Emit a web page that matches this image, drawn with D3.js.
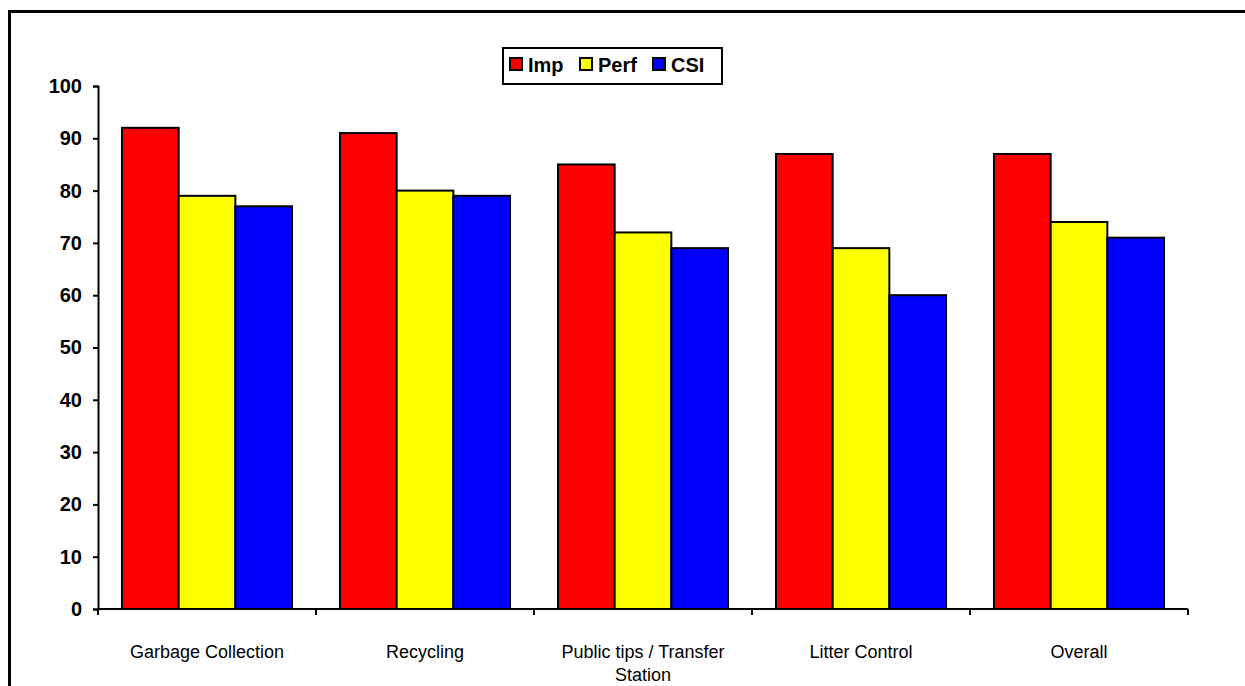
<!DOCTYPE html>
<html>
<head>
<meta charset="utf-8">
<script src="https://cdn.jsdelivr.net/npm/d3@7"></script>
<style>
  html, body { margin: 0; padding: 0; background: #fff; }
  svg { display: block; }
  text { font-family: "Liberation Sans", Arial, sans-serif; }
</style>
</head>
<body>
<svg id="chart" width="1245" height="686"></svg>
<script>
// Satisfaction scores by waste service
const categories = ["Garbage Collection", "Recycling", "Public tips / Transfer Station", "Litter Control", "Overall"];
const seriesNames = ["Imp", "Perf", "CSI"];
const seriesColors = ["#ff0000", "#ffff00", "#0000ff"];
const impValues  = [92, 91, 85, 87, 87];
const perfValues = [79, 80, 72, 69, 74];
const csiValues  = [77, 79, 69, 60, 71];
const yTicks = [0, 10, 20, 30, 40, 50, 60, 70, 80, 90, 100];

const series = [impValues, perfValues, csiValues];

const svg = d3.select("#chart");

// outer chart frame (runs off the right and bottom edges)
svg.append("rect")
  .attr("x", 9.5).attr("y", 11.5)
  .attr("width", 1300).attr("height", 760)
  .attr("fill", "none").attr("stroke", "#000").attr("stroke-width", 3);

const plot = { left: 98, right: 1188, top: 86, bottom: 609 };

const x0 = d3.scaleBand()
  .domain(categories)
  .range([plot.left, plot.right])
  .paddingInner(0.22)
  .paddingOuter(0.11);

const x1 = d3.scaleBand()
  .domain(seriesNames)
  .range([0, x0.bandwidth()]);

const y = d3.scaleLinear().domain([0, 100]).range([plot.bottom, plot.top]);

// bars
const groups = svg.append("g").selectAll("g")
  .data(categories)
  .join("g")
  .attr("transform", d => `translate(${x0(d)},0)`);

groups.selectAll("rect")
  .data((d, i) => seriesNames.map((s, j) => ({ s, j, v: series[j][i] })))
  .join("rect")
  .attr("x", d => x1(d.s))
  .attr("y", d => y(d.v))
  .attr("width", x1.bandwidth())
  .attr("height", d => y(0) - y(d.v))
  .attr("fill", d => seriesColors[d.j])
  .attr("stroke", "#000")
  .attr("stroke-width", 2);

// y axis
const yAxis = d3.axisLeft(y).tickValues(yTicks).tickSize(5).tickPadding(11);
const gy = svg.append("g").attr("transform", `translate(${plot.left},0)`).call(yAxis);
gy.select(".domain").attr("stroke-width", 2);
gy.selectAll(".tick line").attr("stroke-width", 2);
gy.selectAll(".tick text")
  .attr("font-size", 20).attr("font-weight", "bold")
  .attr("font-family", "Liberation Sans, Arial, sans-serif")
  .attr("fill", "#000");

// x axis: baseline with ticks on the category boundaries
const boundary = d3.scaleLinear().domain([0, categories.length]).range([plot.left, plot.right]);
const gx = svg.append("g");
gx.append("line")
  .attr("x1", plot.left).attr("x2", plot.right)
  .attr("y1", plot.bottom).attr("y2", plot.bottom)
  .attr("stroke", "#000").attr("stroke-width", 2);
gx.selectAll("line.tk")
  .data(d3.range(categories.length + 1))
  .join("line")
  .attr("class", "tk")
  .attr("x1", d => boundary(d)).attr("x2", d => boundary(d))
  .attr("y1", plot.bottom).attr("y2", plot.bottom + 6)
  .attr("stroke", "#000").attr("stroke-width", 2);

// category labels (wrapped like the original)
const labelLines = {
  "Public tips / Transfer Station": ["Public tips / Transfer", "Station"]
};
const labels = svg.append("g").selectAll("text")
  .data(categories)
  .join("text")
  .attr("x", d => x0(d) + x0.bandwidth() / 2)
  .attr("y", 658)
  .attr("text-anchor", "middle")
  .attr("font-size", 18)
  .attr("fill", "#000");
labels.each(function (d) {
  const lines = labelLines[d] || [d];
  const t = d3.select(this);
  lines.forEach((ln, k) => {
    t.append("tspan")
      .attr("x", x0(d) + x0.bandwidth() / 2)
      .attr("dy", k === 0 ? 0 : 23)
      .text(ln);
  });
});

// legend
const legend = svg.append("g");
legend.append("rect")
  .attr("x", 503).attr("y", 48)
  .attr("width", 219).attr("height", 36)
  .attr("fill", "#fff").attr("stroke", "#000").attr("stroke-width", 2);
const legendX = [510, 580, 653];
seriesNames.forEach((s, j) => {
  legend.append("rect")
    .attr("x", legendX[j]).attr("y", 58)
    .attr("width", 12).attr("height", 12)
    .attr("fill", seriesColors[j]).attr("stroke", "#000").attr("stroke-width", 2);
  legend.append("text")
    .attr("x", legendX[j] + 18).attr("y", 72)
    .attr("font-size", 20).attr("font-weight", "bold")
    .attr("fill", "#000")
    .text(s);
});
</script>
</body>
</html>
